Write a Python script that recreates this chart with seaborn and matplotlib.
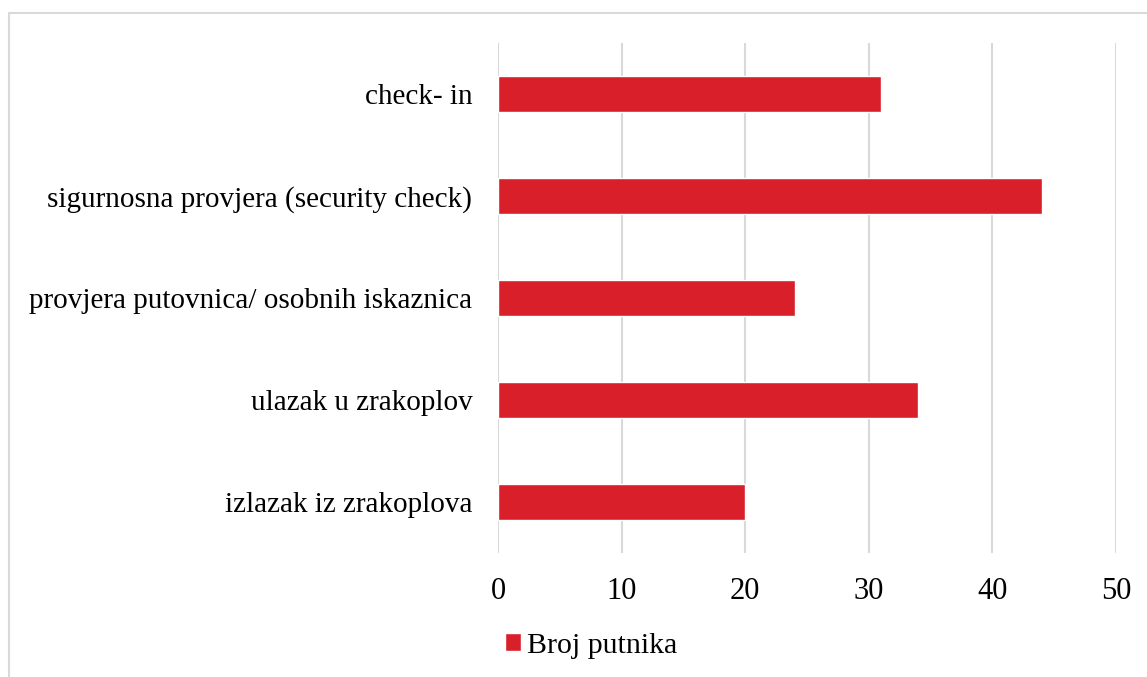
import matplotlib
matplotlib.use("Agg")
import matplotlib.pyplot as plt
import matplotlib.patches as mpatches
import seaborn as sns
import pandas as pd

categories = [
    "check- in",
    "sigurnosna provjera (security check)",
    "provjera putovnica/ osobnih iskaznica",
    "ulazak u zrakoplov",
    "izlazak iz zrakoplova",
]
values = [31, 44, 24, 34, 20]
series_name = "Broj putnika"
x_ticks = [0, 10, 20, 30, 40, 50]

bar_color = "#D9202A"
grid_color = "#D9D9D9"

sns.set_theme(style="white")
plt.rcParams["font.family"] = ["Liberation Serif", "DejaVu Serif"]

W, H = 1147, 677
fig = plt.figure(figsize=(W / 100, H / 100), dpi=100)
ax = fig.add_axes([498 / W, 1 - 553 / H, (1116 - 498) / W, (553 - 43) / H])

df = pd.DataFrame({"category": categories, "value": values, "series": series_name})
sns.barplot(data=df, x="value", y="category", hue="series", palette=[bar_color],
            width=0.36, ax=ax, saturation=1, orient="h")

ax.set_xlim(0, 50)
ax.set_ylim(len(categories) - 0.5, -0.5)
ax.set_xticks(x_ticks)
ax.set_xticklabels([str(t) for t in x_ticks])
ax.set_xlabel("")
ax.set_ylabel("")
ax.tick_params(axis="x", labelsize=22, pad=17, length=0)
ax.tick_params(axis="y", labelsize=21, pad=18.5, length=0)
for lbl in ax.get_xticklabels() + ax.get_yticklabels():
    lbl.set_color("#000000")

ax.xaxis.grid(True, color=grid_color, linewidth=1.5)
ax.yaxis.grid(False)
ax.set_axisbelow(True)
for s in ax.spines.values():
    s.set_visible(False)

leg = ax.legend(loc="center", bbox_to_anchor=(591 / W, 1 - 646 / H),
                bbox_transform=fig.transFigure, frameon=False, fontsize=21.5,
                handlelength=0.55, handleheight=0.55, handletextpad=0.2)
for t in leg.get_texts():
    t.set_color("#000000")

# light frame around the chart area
frame = mpatches.Rectangle((9 / W, -0.05), 1.2, 1 - 13 / H + 0.05,
                           transform=fig.transFigure, fill=False,
                           edgecolor="#D9D9D9", linewidth=1.5, clip_on=False)
fig.patches.append(frame)

fig.savefig("out.png", dpi=100, facecolor="white")
